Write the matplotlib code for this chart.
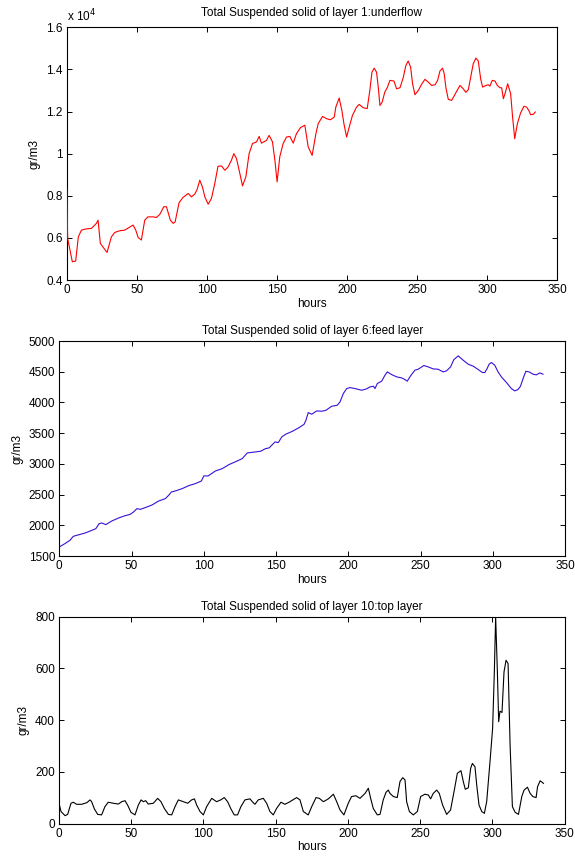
import numpy as np
import matplotlib
matplotlib.use("Agg")
import matplotlib.pyplot as plt
from matplotlib.ticker import FuncFormatter

plt.rcParams['font.family'] = ['Liberation Sans', 'DejaVu Sans']
plt.rcParams['font.size'] = 8.5

#---DATA

# layer 1: underflow  [gr/m3]
hours_1 = [0, 0.7, 4, 6.4, 8.3, 10.5, 14, 17.6, 21.2, 22.4,
           24, 28.8, 31.9, 34.3, 37.9, 41.4, 45.5, 47.4, 49.3, 51,
           53.3, 55.7, 58, 61.7, 64, 66.4, 69.3, 71.2, 74, 76,
           77.4, 80.2, 83, 86.7, 89, 91.4, 93.1, 95, 96.9, 98.6,
           101, 103.3, 105.7, 108, 110.5, 112.9, 115.2, 117.6, 119.3, 121.2,
           123.6, 125.5, 127.9, 130.2, 132.6, 135.5, 137.4, 139, 142.6, 144.5,
           146.9, 148.6, 150.2, 152.1, 154.5, 156.9, 159.3, 161.7, 164, 166.9,
           170, 172.4, 175.2, 177.9, 179.5, 182.6, 185.5, 188.3, 191, 192.1,
           194.5, 196.4, 197.9, 199.8, 201.7, 204, 206.9, 208.8, 211.7, 214.5,
           216.4, 217.9, 219.5, 221.2, 222.4, 223.6, 225.2, 227.1, 228.8, 230.7,
           233.6, 235.5, 237.9, 240.2, 242.1, 243.8, 245.5, 246.9, 248.6, 251,
           253.3, 255.7, 258.1, 260.5, 262.9, 264.8, 266.4, 268.3, 269.5, 270.7,
           272.4, 274.8, 277.1, 279, 280.7, 283.1, 284.9, 286.7, 288.3, 290.2,
           292.1, 293.8, 295.5, 296.9, 299.3, 301, 302.1, 303.8, 305.7, 307.4,
           309.3, 310.5, 311.7, 312.9, 314.8, 316.9, 318.3, 319.8, 321.7, 324,
           326.4, 328.3, 329.8, 331.2, 333.1, 334.5]
tss_1 = [8340, 5970, 4870, 4900, 6050, 6370, 6430, 6450, 6690, 6840,
         5740, 5310, 6050, 6260, 6340, 6370, 6530, 6610, 6370, 6020,
         5900, 6840, 7000, 7000, 6970, 7110, 7480, 7480, 6840, 6690,
         6760, 7670, 7920, 8110, 7950, 8080, 8300, 8740, 8420, 7950,
         7600, 7870, 8580, 9400, 9420, 9210, 9370, 9690, 10000, 9770,
         9060, 8470, 8900, 10000, 10480, 10560, 10820, 10500, 10630, 10870,
         10560, 9690, 8660, 9850, 10480, 10790, 10820, 10500, 10950, 11240,
         11350, 10320, 9920, 10950, 11420, 11770, 11660, 11610, 11740, 12210,
         12640, 12060, 11420, 10790, 11270, 11820, 12210, 12340, 12180, 12140,
         13000, 13870, 14060, 13870, 13160, 12290, 12450, 12930, 13130, 13480,
         13450, 13080, 13130, 13600, 14190, 14400, 14110, 13320, 12800, 13000,
         13290, 13530, 13400, 13240, 13270, 13480, 13920, 14060, 13790, 13130,
         12580, 12530, 12810, 13040, 13240, 13080, 12910, 13040, 13600, 14270,
         14540, 14400, 13560, 13160, 13240, 13270, 13210, 13480, 13450, 13240,
         13130, 13130, 12610, 12850, 13320, 12850, 11740, 10710, 11420, 11930,
         12250, 12210, 12060, 11850, 11870, 11980]

# layer 6: feed layer
hours_6 = [0, 3.9, 7.4, 9.7, 12.1, 17.9, 22.5, 25.3, 27.6, 29.4,
           32.2, 36.4, 41, 45.6, 49.1, 51.4, 53.7, 56.1, 59.5, 64.2,
           68.8, 73.4, 75.7, 77.6, 80.3, 85, 89.6, 94.2, 98.4, 100,
           103, 108.1, 112.8, 117.4, 123.2, 126.6, 130.1, 135.9, 139.4, 142.8,
           145.2, 147.5, 149.3, 151.6, 154, 156.7, 161.4, 166, 169.4, 170.7,
           172.3, 174.7, 178.1, 181.6, 184.6, 188.5, 192.4, 194.3, 196.6, 198.9,
           201.2, 204.7, 209.3, 212.7, 215, 217.4, 218.5, 220.1, 223.1, 225.4,
           227, 230, 233.5, 236.9, 239.2, 240.8, 243.1, 246.1, 248.4, 252.3,
           255.3, 258.8, 262.2, 265.7, 268, 270.8, 273.1, 276.1, 279.5, 283,
           286.5, 289.9, 292.9, 294.5, 296.1, 297.5, 299.1, 301.4, 303.7, 306,
           309.5, 312.9, 315.2, 317.5, 319.2, 321, 322.9, 325.2, 327.9, 330.2,
           332.5, 334.8]
tss_6 = [1647, 1702, 1756, 1821, 1837, 1875, 1918, 1946, 2027, 2038,
         2011, 2071, 2119, 2157, 2179, 2217, 2271, 2260, 2288, 2331,
         2396, 2434, 2489, 2543, 2559, 2597, 2646, 2679, 2722, 2804,
         2804, 2885, 2923, 2988, 3048, 3086, 3178, 3195, 3206, 3249,
         3260, 3314, 3358, 3347, 3439, 3483, 3531, 3591, 3644, 3709,
         3835, 3808, 3862, 3857, 3873, 3938, 3955, 4009, 4145, 4226,
         4242, 4226, 4199, 4221, 4253, 4264, 4226, 4308, 4346, 4443,
         4497, 4454, 4416, 4400, 4373, 4346, 4432, 4525, 4541, 4601,
         4579, 4546, 4541, 4497, 4514, 4579, 4698, 4758, 4688, 4623,
         4590, 4536, 4487, 4487, 4552, 4623, 4650, 4606, 4497, 4416,
         4324, 4226, 4188, 4210, 4264, 4389, 4508, 4497, 4460, 4449,
         4481, 4460]

# layer 10: top layer
hours_10 = [0, 1.4, 4.2, 6, 8.3, 9.9, 12.2, 15.7, 19.2, 21.5,
            22.6, 24.5, 26.8, 29.5, 31.8, 34.1, 37.6, 41.1, 43.4, 45.7,
            47.5, 49.8, 52.6, 54.9, 56.8, 58.4, 60, 61.8, 65.3, 68.3,
            70.6, 72.9, 75.7, 78, 80.3, 82.6, 86.1, 89.1, 91.8, 93.7,
            95.3, 97.6, 99.9, 102.2, 105.7, 109.1, 111.9, 114.4, 116.7, 119,
            121.3, 123.6, 125.9, 128.7, 132.2, 133.8, 135.6, 137.9, 141.4, 143.7,
            146, 148.3, 150.6, 153.6, 156.4, 159.2, 164.5,
            166.8, 169.1, 172.5, 174.9, 177.9, 180.2, 183, 186.4, 189.9, 192.2,
            194.5, 197.2, 200.2, 202.5, 205.5, 208.3, 211.8, 214.1, 215.7, 217.5,
            220.3, 222.2, 224.4, 226.3, 227.9, 229.1, 231.4, 234.1, 236, 237.9,
            239.5, 240.6, 242.5, 245.2, 248, 250.3, 253.3, 255.6, 257.2, 259,
            261.4, 263.2, 265.5, 268.3, 271, 273.4, 275.7, 278.2, 279.8, 281.2,
            283.3, 284.9, 286.1, 287.9, 289.1, 290.7, 292.6, 294.4, 296, 298.3,
            300.1, 301.3, 302.2, 303.4, 304.3, 305.2, 306.6, 308, 309.4, 310.8,
            312.2, 313.8, 315.7, 318, 320.3, 321.9, 324.2, 326.1, 327.9, 330.2,
            331.2, 333, 335.3]
tss_10 = [79, 47, 31, 36, 79, 83, 75, 75, 81, 92,
          85, 57, 36, 34, 66, 83, 79, 76, 85, 89,
          72, 44, 34, 72, 92, 85, 89, 76, 79, 98,
          85, 59, 36, 34, 66, 92, 85, 79, 92, 96,
          72, 47, 34, 66, 98, 85, 92, 101, 85, 57,
          34, 34, 66, 92, 96, 85, 75, 92, 98, 79,
          47, 34, 59, 83, 75, 83, 101,
          92, 47, 34, 66, 101, 98, 85, 96, 114, 85,
          53, 34, 79, 105, 108, 98, 117, 137, 98, 59,
          34, 36, 92, 121, 130, 117, 105, 101, 163, 178,
          169, 85, 47, 34, 47, 105, 114, 111, 96, 117,
          130, 117, 72, 36, 53, 124, 195, 205, 163, 133,
          139, 214, 233, 220, 150, 72, 47, 40, 85, 240,
          368, 587, 800, 587, 394, 435, 430, 587, 632, 619,
          304, 66, 44, 36, 105, 130, 141, 117, 105, 101,
          143, 166, 156]

titles = ['Total Suspended solid of layer 1:underflow',
          'Total Suspended solid of layer 6:feed layer',
          'Total Suspended solid of layer 10:top layer']

#--- Plot

fig = plt.figure(figsize=(5.75, 8.59), dpi=100)

ax1 = fig.add_axes([0.116, 0.674, 0.8527, 0.2942])
ax2 = fig.add_axes([0.1031, 0.3527, 0.8795, 0.2503])
ax3 = fig.add_axes([0.1026, 0.0411, 0.8795, 0.2409])


def matlab_axes(ax, title, yticks, title_pad=5):
    ax.set_xlim(0, 350)
    ax.set_xticks(np.arange(0, 351, 50))
    ax.set_ylim(yticks[0], yticks[-1])
    ax.set_yticks(yticks)
    ax.yaxis.set_major_formatter(FuncFormatter(lambda v, p: '%g' % round(v, 3)))
    ax.tick_params(direction='in', top=True, right=True, length=3.5,
                   width=0.7, labelsize=8.5, pad=3)
    for s in ax.spines.values():
        s.set_linewidth(0.8)
    ax.set_title(title, fontsize=8.5, pad=title_pad)
    ax.set_xlabel('hours', fontsize=8.5, labelpad=1)
    ax.set_ylabel('gr/m3', fontsize=8.5, labelpad=4)


ax1.plot(hours_1, np.array(tss_1) / 1e4, color='#ff0000', linewidth=0.8,
         zorder=3)
matlab_axes(ax1, titles[0], np.arange(0.4, 1.61, 0.2), title_pad=8)
ax1.text(0.0, 1.012, r'x 10$^{4}$', transform=ax1.transAxes,
         fontsize=8.5, ha='left', va='bottom')

ax2.plot(hours_6, tss_6, color='#3a0fd8', linewidth=0.8)
matlab_axes(ax2, titles[1], np.arange(1500, 5001, 500))

ax3.plot(hours_10, tss_10, color='k', linewidth=0.8)
matlab_axes(ax3, titles[2], np.arange(0, 801, 200))

fig.savefig("out.png", dpi=100)
